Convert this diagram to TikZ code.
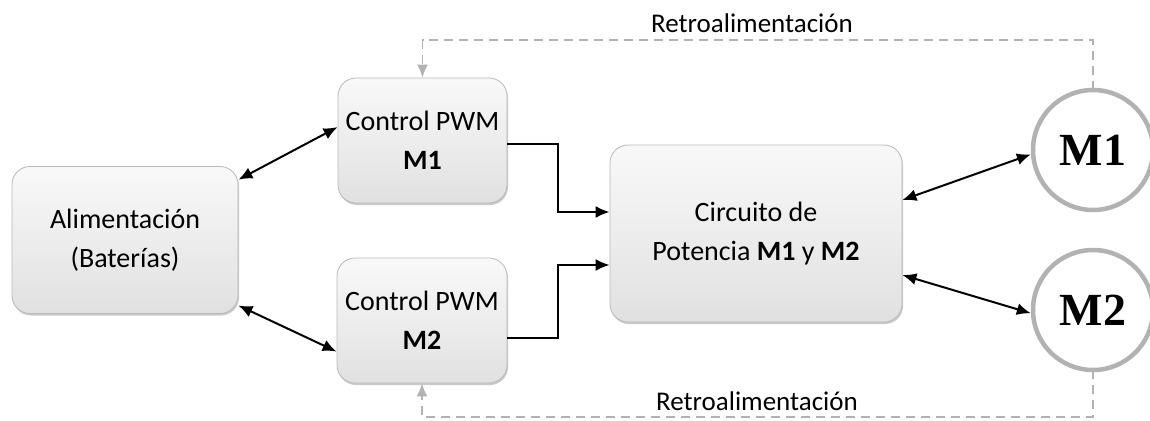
\documentclass[tikz,border=0pt]{standalone}
\usepackage{fontspec}
\setmainfont{Carlito}
\newfontfamily\motorfont{Liberation Serif}
\usetikzlibrary{arrows.meta,shadows,calc}
\begin{document}
\begin{tikzpicture}[x=1pt,y=-1pt,
  blk/.style={rectangle, rounded corners=18pt, draw=gray!55, line width=0.8pt,
    top color=gray!5, bottom color=gray!24, inner sep=0pt, align=center,
    font=\fontsize{28}{39}\selectfont,
    drop shadow={shadow xshift=1pt, shadow yshift=-2pt, fill=gray!70, opacity=0.6}},
  motor/.style={circle, draw=gray!60, line width=4.5pt, fill=white, minimum size=120pt,
    inner sep=0pt, font=\motorfont\bfseries\fontsize{46}{46}\selectfont},
  link/.style={line width=2pt, black, {Latex[length=14pt,width=12pt]}-{Latex[length=14pt,width=12pt]}},
  flow/.style={line width=2pt, black, -{Latex[length=14pt,width=12pt]}},
  fb/.style={line width=1.8pt, gray!60, dash pattern=on 9pt off 6pt, -{Latex[length=13pt,width=11pt]}},
  lbl/.style={font=\fontsize{27}{27}\selectfont, anchor=base, inner sep=0pt}
]
\useasboundingbox (0,0) rectangle (1150,420);

\node[blk, minimum width=226pt, minimum height=147pt] (ali) at (125,240) {Alimentación\\(Baterías)};
\node[blk, minimum width=169pt, minimum height=125pt] (c1) at (422.5,140.5) {Control PWM\\\textbf{M1}};
\node[blk, minimum width=170pt, minimum height=125pt] (c2) at (422,320.5) {Control PWM\\\textbf{M2}};
\node[blk, minimum width=292pt, minimum height=177pt] (pot) at (756,233.5) {Circuito de\\Potencia \textbf{M1} y \textbf{M2}};
\node[motor] (m1) at (1093,150) {M1};
\node[motor] (m2) at (1093,310) {M2};

\draw[link] (ali.28.7) -- (c1.171.6);
\draw[link] (ali.-30.7) -- (c2.200.3);
\draw[flow] ([yshift=-3pt]c1.east) -- ++(51,0) |- ([yshift=21.5pt]pot.west);
\draw[flow] ([yshift=-17.5pt]c2.east) -- ++(51,0) |- ([yshift=-31.5pt]pot.west);
\draw[link] ([yshift=33.5pt]pot.east) -- (m1.184.5);
\draw[link] ([yshift=-41.5pt]pot.east) -- (m2.183);

\coordinate (tl) at (c1.north |- 0,40);
\coordinate (bl) at (c2.south |- 0,417);
\draw[fb] ([yshift=-2pt]m1.north) |- (tl) -- (c1.north);
\draw[fb] ([yshift=2pt]m2.south) |- (bl) -- (c2.south);

\node[lbl] (rt) at (752,33) {Retroalimentación};
\node[lbl] (rb) at (757,410) {Retroalimentación};
\end{tikzpicture}
\end{document}
